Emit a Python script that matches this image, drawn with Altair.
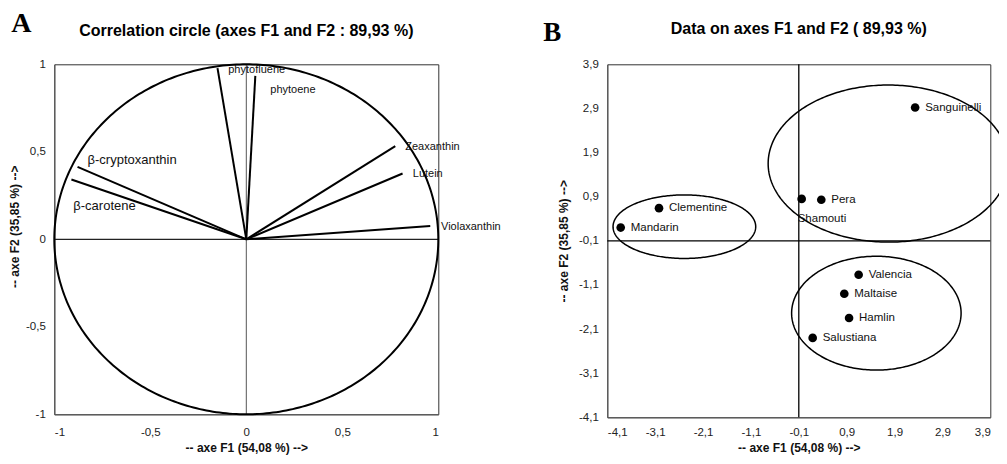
import altair as alt
import numpy as np
import pandas as pd

# ---------------- Panel A : correlation circle ----------------
var_names = ["phytofluene", "phytoene", "Zeaxanthin", "Lutein", "Violaxanthin",
             "β-cryptoxanthin", "β-carotene"]
var_f1 = [-0.150, 0.047, 0.776, 0.814, 0.958, -0.879, -0.911]
var_f2 = [0.978, 0.934, 0.532, 0.376, 0.076, 0.414, 0.342]
label_f1 = [-0.094, 0.125, 0.828, 0.867, 1.014, -0.827, -0.901]
label_f2 = [0.969, 0.851, 0.530, 0.376, 0.072, 0.456, 0.188]
label_big = [False, False, False, False, False, True, True]
corr_ticks = [-1, -0.5, 0, 0.5, 1]

# ---------------- Panel B : observations ----------------
obs_names = ["Sanguinelli", "Pera", "Shamouti", "Clementine", "Mandarin",
             "Valencia", "Maltaise", "Hamlin", "Salustiana"]
obs_f1 = [2.33, 0.37, -0.04, -3.02, -3.82, 1.15, 0.85, 0.95, 0.19]
obs_f2 = [2.92, 0.83, 0.85, 0.64, 0.20, -0.87, -1.30, -1.85, -2.30]
obs_label_below = [False, False, True, False, False, False, False, False, False]
obs_ticks = [-4.1, -3.1, -2.1, -1.1, -0.1, 0.9, 1.9, 2.9, 3.9]

group_cx = [-2.49, 1.77, 1.52]
group_cy = [0.22, 1.65, -1.74]
group_rx = [1.49, 2.51, 1.77]
group_ry = [0.72, 1.78, 1.29]
picture_right_edge = 4.25  # data units where the picture ends on the right

panel_letters = ["A", "B"]
titles = ["Correlation circle (axes F1 and F2 : 89,93 %)",
          "Data on axes F1 and F2 ( 89,93 %)"]
x_title = "-- axe F1 (54,08 %) -->"
y_title = "-- axe F2 (35,85 %) -->"

LABEL_EXPR = "replace(toString(datum.value), '.', ',')"
FONT = "Liberation Sans"
WA, HA = 384, 350
WB, HB = 383, 353
SPACING = 169
VIEW_W, VIEW_H = 991, 448          # drawing surface inside the 8px page margin
PAD_LEFT, PAD_TOP = 46.3, 56.3     # where the first plot area starts

# ---------- helpers ----------
def xA():
    return alt.X("x:Q", scale=alt.Scale(domain=[-1, 1], nice=False, zero=False),
                 axis=alt.Axis(values=corr_ticks, labelExpr=LABEL_EXPR, title=x_title,
                               labelPadding=12, titlePadding=5))

def yA():
    return alt.Y("y:Q", scale=alt.Scale(domain=[-1, 1], nice=False, zero=False),
                 axis=alt.Axis(values=corr_ticks, labelExpr=LABEL_EXPR, title=y_title,
                               labelPadding=9, titlePadding=4, titleY=162))

def xB():
    return alt.X("x:Q", scale=alt.Scale(domain=[-4.1, 3.9], nice=False, zero=False),
                 axis=alt.Axis(values=obs_ticks, labelExpr=LABEL_EXPR, title=x_title,
                               labelPadding=9, titlePadding=5))

def yB():
    return alt.Y("y:Q", scale=alt.Scale(domain=[-4.1, 3.9], nice=False, zero=False),
                 axis=alt.Axis(values=obs_ticks, labelExpr=LABEL_EXPR, title=y_title,
                               labelPadding=9, titlePadding=8))

def heading(letter, title, width, letter_x, letter_y, title_y, letter_size):
    letter_layer = alt.Chart(pd.DataFrame({"t": [letter]})).mark_text(
        align="left", baseline="alphabetic", font="Liberation Serif", fontSize=letter_size,
        fontWeight="bold", color="black").encode(
        text="t:N", x=alt.value(letter_x), y=alt.value(letter_y))
    title_layer = alt.Chart(pd.DataFrame({"t": [title]})).mark_text(
        align="center", baseline="middle", font=FONT, fontSize=16,
        fontWeight="bold", color="black").encode(
        text="t:N", x=alt.value(width / 2), y=alt.value(title_y))
    return letter_layer, title_layer

# ---------- Panel A ----------
theta = np.linspace(0, 2 * np.pi, 361)
circle_df = pd.DataFrame({"x": np.cos(theta), "y": np.sin(theta), "i": np.arange(len(theta))})
vec_df = pd.DataFrame({"name": var_names, "x": [0.0] * len(var_names), "y": [0.0] * len(var_names),
                       "x2": var_f1, "y2": var_f2})
lab_df = pd.DataFrame({"name": var_names, "x": label_f1, "y": label_f2, "big": label_big})

a_circle = alt.Chart(circle_df).mark_line(color="black", strokeWidth=2).encode(
    x=xA(), y=yA(), order="i:Q")
a_vline = alt.Chart(pd.DataFrame({"x": [0]})).mark_rule(color="#555", strokeWidth=1).encode(x=xA())
a_hline = alt.Chart(pd.DataFrame({"y": [0]})).mark_rule(color="#222", strokeWidth=1.3).encode(y=yA())
a_vec = alt.Chart(vec_df).mark_rule(color="black", strokeWidth=2).encode(
    x=xA(), y=yA(), x2="x2:Q", y2="y2:Q")
a_lab_small = alt.Chart(lab_df).transform_filter("!datum.big").mark_text(
    align="left", baseline="middle", font=FONT, fontSize=11, color="#111").encode(
    x=xA(), y=yA(), text="name:N")
a_lab_big = alt.Chart(lab_df).transform_filter("datum.big").mark_text(
    align="left", baseline="middle", font=FONT, fontSize=13, color="#111").encode(
    x=xA(), y=yA(), text="name:N")
a_letter, a_title = heading(panel_letters[0], titles[0], WA, -43, -32, -33, 28)

panel_a = alt.layer(a_vline, a_hline, a_circle, a_vec, a_lab_small, a_lab_big,
                    a_letter, a_title).properties(width=WA, height=HA)

# ---------- Panel B ----------
ell_rows = []
for g, (cx, cy, rx, ry) in enumerate(zip(group_cx, group_cy, group_rx, group_ry)):
    c = (picture_right_edge - cx) / rx
    tc = float(np.arccos(c)) if c < 1 else 0.0
    th = np.linspace(tc, 2 * np.pi - tc, 300)
    for k, t in enumerate(th):
        ell_rows.append({"g": g, "i": k, "x": cx + rx * np.cos(t), "y": cy + ry * np.sin(t)})
ell_df = pd.DataFrame(ell_rows)
obs_df = pd.DataFrame({"name": obs_names, "x": obs_f1, "y": obs_f2, "below": obs_label_below})

b_vline = alt.Chart(pd.DataFrame({"x": [-0.1]})).mark_rule(color="black", strokeWidth=1.3).encode(x=xB())
b_hline = alt.Chart(pd.DataFrame({"y": [-0.1]})).mark_rule(color="black", strokeWidth=1.3).encode(y=yB())
b_ell = alt.Chart(ell_df).mark_line(color="black", strokeWidth=1.5, clip=False).encode(
    x=xB(), y=yB(), detail="g:N", order="i:Q")
b_pts = alt.Chart(obs_df).mark_point(filled=True, color="black", size=75, opacity=1).encode(
    x=xB(), y=yB())
b_lab = alt.Chart(obs_df).transform_filter("!datum.below").mark_text(
    align="left", baseline="middle", dx=10, font=FONT, fontSize=11.5, color="#111").encode(
    x=xB(), y=yB(), text="name:N")
b_lab_below = alt.Chart(obs_df).transform_filter("datum.below").mark_text(
    align="left", baseline="middle", dx=-4, dy=20, font=FONT, fontSize=11.5, color="#111").encode(
    x=xB(), y=yB(), text="name:N")
b_letter, b_title = heading(panel_letters[1], titles[1], WB, -64, -23, -35, 27)

panel_b = alt.layer(b_vline, b_hline, b_ell, b_pts, b_lab, b_lab_below,
                    b_letter, b_title).properties(width=WB, height=HB)

chart = alt.hconcat(panel_a, panel_b, spacing=SPACING, bounds="flush").properties(
    autosize=alt.AutoSizeParams(type="none"),
    padding={"left": PAD_LEFT, "top": PAD_TOP,
             "right": VIEW_W - PAD_LEFT, "bottom": VIEW_H - PAD_TOP}
).configure_view(stroke="#333", strokeWidth=1).configure_axis(
    grid=False, ticks=False, tickSize=0, domainColor="#555", domainWidth=1,
    labelFont=FONT, labelFontSize=11.5, labelColor="#222",
    titleFont=FONT, titleFontSize=12, titleFontWeight="bold", titleColor="#111")

chart.save("out.html", embed_options={"renderer": "svg", "actions": False})
